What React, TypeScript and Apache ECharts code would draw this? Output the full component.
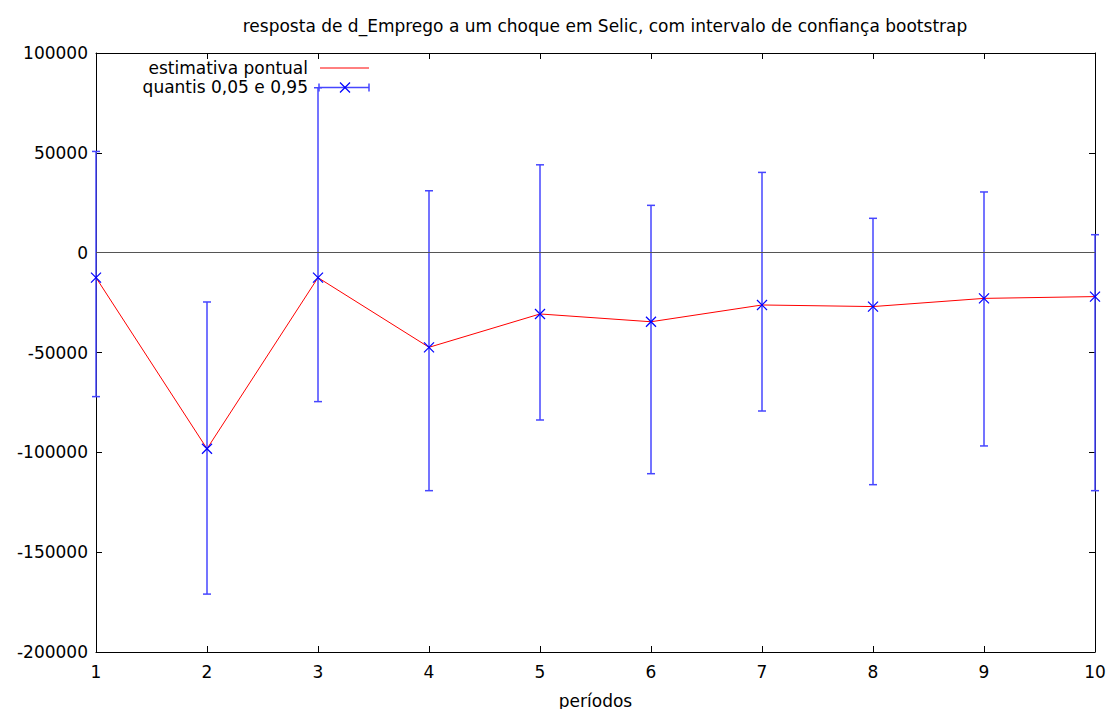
import React, { useEffect, useRef } from "react";
import * as echarts from "echarts";

const periods = [1, 2, 3, 4, 5, 6, 7, 8, 9, 10];
const estimate = [-12500, -98200, -12500, -47400, -30700, -34600, -26200, -27000, -22900, -22000];
const upper = [50700, -24700, 82600, 31000, 44000, 23700, 40200, 17200, 30400, 9000];
const lower = [-72100, -171000, -74600, -119200, -83800, -110700, -79300, -116200, -96800, -119200];

const titleText = "resposta de d_Emprego a um choque em Selic, com intervalo de confiança bootstrap";
const legendLine = "estimativa pontual";
const legendBars = "quantis 0,05 e 0,95";
const xName = "períodos";

const FONT = "DejaVu Sans";
const FS = 17;
const BLUE = "#4646ff";

export default function App() {
  const ref = useRef<HTMLDivElement>(null);
  useEffect(() => {
    if (!ref.current) return;
    const chart = echarts.init(ref.current, null, { renderer: "svg" });
    const barData = periods.map((p, i) => [p, lower[i], upper[i], estimate[i]]);
    const axisCommon = {
      type: "value" as const,
      axisLine: { show: true, onZero: false, lineStyle: { color: "#000", width: 1 } },
      axisTick: { show: true, inside: true, length: 6, lineStyle: { color: "#000" } },
      splitLine: { show: false },
    };
    chart.setOption({
      animation: false,
      backgroundColor: "#fff",
      textStyle: { fontFamily: FONT },
      title: {
        text: titleText,
        left: 600,
        top: 12,
        textAlign: "center",
        textStyle: { fontFamily: FONT, fontSize: FS, fontWeight: "normal", color: "#000" },
      },
      grid: { left: 96, right: 17, top: 53, bottom: 57, outerBoundsMode: "none", containLabel: false },
      xAxis: [
        {
          ...axisCommon,
          min: 1,
          max: 10,
          interval: 1,
          position: "bottom",
          axisLabel: { show: true, color: "#000", fontSize: FS, fontFamily: FONT, margin: 11 },
          name: xName,
          nameLocation: "middle",
          nameGap: 40,
          nameTextStyle: { color: "#000", fontSize: FS, fontFamily: FONT },
        },
        {
          ...axisCommon,
          min: 1,
          max: 10,
          interval: 1,
          position: "top",
          axisLabel: { show: false },
        },
      ],
      yAxis: [
        {
          ...axisCommon,
          min: -200000,
          max: 100000,
          interval: 50000,
          position: "left",
          axisLabel: {
            show: true,
            color: "#000",
            fontSize: FS,
            fontFamily: FONT,
            margin: 8,
            formatter: (v: number) => String(v),
          },
        },
        {
          ...axisCommon,
          min: -200000,
          max: 100000,
          interval: 50000,
          position: "right",
          axisLabel: { show: false },
        },
      ],
      series: [
        {
          type: "line",
          data: periods.map((p, i) => [p, estimate[i]]),
          showSymbol: false,
          lineStyle: { color: "#ff0000", width: 1 },
          itemStyle: { color: "#ff0000" },
          z: 3,
          markLine: {
            silent: true,
            symbol: "none",
            label: { show: false },
            lineStyle: { color: "#555", width: 1.2, type: "solid" },
            data: [{ yAxis: 0 }],
          },
        },
        {
          type: "custom",
          data: barData,
          z: 4,
          clip: false,
          renderItem: (params: any, api: any) => {
            const x = api.value(0);
            const top = api.coord([x, api.value(2)]);
            const bot = api.coord([x, api.value(1)]);
            const mid = api.coord([x, api.value(3)]);
            const cap = 4;
            const m = 5;
            const st = { stroke: BLUE, lineWidth: 1.5 };
            const stM = { stroke: "#0000ff", lineWidth: 1.2 };
            return {
              type: "group",
              children: [
                { type: "line", shape: { x1: top[0], y1: top[1], x2: bot[0], y2: bot[1] }, style: st },
                { type: "line", shape: { x1: top[0] - cap, y1: top[1], x2: top[0] + cap, y2: top[1] }, style: st },
                { type: "line", shape: { x1: bot[0] - cap, y1: bot[1], x2: bot[0] + cap, y2: bot[1] }, style: st },
                { type: "line", shape: { x1: mid[0] - m, y1: mid[1] - m, x2: mid[0] + m, y2: mid[1] + m }, style: stM },
                { type: "line", shape: { x1: mid[0] - m, y1: mid[1] + m, x2: mid[0] + m, y2: mid[1] - m }, style: stM },
              ],
            };
          },
        },
      ],
      graphic: [
        {
          type: "text",
          x: 308,
          y: 68,
          style: { text: legendLine, textAlign: "right", textVerticalAlign: "middle", font: `${FS}px "${FONT}"`, fill: "#000" },
        },
        {
          type: "text",
          x: 308,
          y: 87,
          style: { text: legendBars, textAlign: "right", textVerticalAlign: "middle", font: `${FS}px "${FONT}"`, fill: "#000" },
        },
        { type: "line", shape: { x1: 320, y1: 68, x2: 369, y2: 68 }, style: { stroke: "#ff0000", lineWidth: 1 } },
        { type: "line", shape: { x1: 319, y1: 87.5, x2: 369, y2: 87.5 }, style: { stroke: BLUE, lineWidth: 1.5 } },
        { type: "line", shape: { x1: 319, y1: 83.5, x2: 319, y2: 91.5 }, style: { stroke: BLUE, lineWidth: 1.5 } },
        { type: "line", shape: { x1: 369, y1: 83.5, x2: 369, y2: 91.5 }, style: { stroke: BLUE, lineWidth: 1.5 } },
        { type: "line", shape: { x1: 340, y1: 82.5, x2: 350, y2: 92.5 }, style: { stroke: "#0000ff", lineWidth: 1.2 } },
        { type: "line", shape: { x1: 340, y1: 92.5, x2: 350, y2: 82.5 }, style: { stroke: "#0000ff", lineWidth: 1.2 } },
      ],
    });
    return () => chart.dispose();
  }, []);
  return <div ref={ref} style={{ width: 1112, height: 709, position: "absolute", left: 0, top: 0 }} />;
}
